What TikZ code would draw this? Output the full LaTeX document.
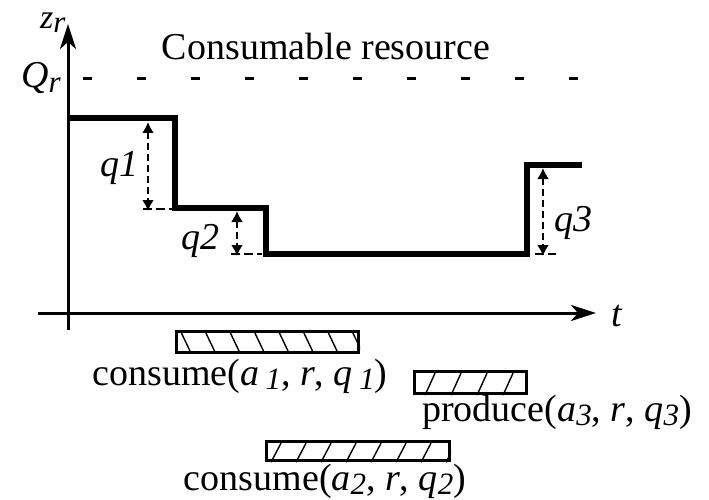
\documentclass[tikz,border=0pt]{standalone}
\usepackage{fontspec}
\setmainfont{Liberation Serif}
\usetikzlibrary{arrows.meta}
\newcommand\lowidx[1]{\raisebox{-0.25ex}{\fontsize{31}{34}\selectfont\textit{#1}}}
\begin{document}
\begin{tikzpicture}[x=1pt,y=-1pt,
  txt/.style={font=\fontsize{38}{42}\selectfont, inner sep=0pt, anchor=base},
  axisarrow/.style={line width=3pt, -{Stealth[length=25pt,width=16pt,inset=7pt]}},
  stepline/.style={line width=5.5pt, line join=miter},
  qarrow/.style={line width=2.8pt, dash pattern=on 7pt off 4pt,
     {Latex[length=11pt,width=12pt]}-{Latex[length=11pt,width=12pt]}},
  qtick/.style={line width=2.8pt, dash pattern=on 9pt off 4pt},
  qdash/.style={line width=3pt, dash pattern=on 9pt off 45pt},
  bar/.style={draw, line width=3.2pt, inner sep=0pt, anchor=north west},
  hatch/.style={line width=1.4pt}]
\useasboundingbox (0,0) rectangle (709,500);

% axis labels (drawn first so the axis overlays them)
\node[txt, font=\fontsize{34}{38}\selectfont, anchor=base west] (zr) at (40,29) {\textit{z}\lowidx{r}};
\node[txt, anchor=base west] (Qr) at (21,88) {\textit{Q}\lowidx{r}};
\node[txt] (tl) at (617,326) {\textit{t}};

% axes
\coordinate (yb) at (68,330);
\coordinate (yt) at (68,24);
\coordinate (xl) at (38,313);
\coordinate (xr) at (596,313);
\draw[axisarrow] (yb) -- (yt);
\draw[axisarrow] (xl) -- (xr);

% capacity line
\coordinate (qa) at (83,79);
\coordinate (qb) at (592,79);
\draw[qdash] (qa) -- (qb);
\node[txt] (title) at (326,60) {Consumable resource};

% resource profile
\coordinate (s0) at (68,118);
\coordinate (s1) at (175,118);
\coordinate (s2) at (175,208);
\coordinate (s3) at (266,208);
\coordinate (s4) at (266,254);
\coordinate (s5) at (527,254);
\coordinate (s6) at (527,165);
\coordinate (s7) at (582,165);
\draw[stepline] (s0) -- (s1) -- (s2) -- (s3) -- (s4) -- (s5) -- (s6) -- (s7);

% q arrows
\coordinate (a1t) at (148,122);
\coordinate (a1b) at (148,211);
\coordinate (t1a) at (143,209);
\coordinate (t1b) at (173,209);
\draw[qarrow] (a1t) -- (a1b);
\draw[qtick] (t1a) -- (t1b);
\node[txt] (q1) at (119,176) {\textit{q1}};

\coordinate (a2t) at (237,211);
\coordinate (a2b) at (237,256);
\coordinate (t2a) at (231,254);
\coordinate (t2b) at (262,254);
\draw[qarrow] (a2t) -- (a2b);
\draw[qtick] (t2a) -- (t2b);
\node[txt] (q2) at (200,249) {\textit{q2}};

\coordinate (a3t) at (543,168);
\coordinate (a3b) at (543,256);
\coordinate (t3a) at (535,254);
\coordinate (t3b) at (556,254);
\draw[qarrow] (a3t) -- (a3b);
\draw[qtick] (t3a) -- (t3b);
\node[txt] (q3) at (573,231) {\textit{q3}};

% activity bars
\node[bar, minimum width=182pt, minimum height=21pt] (b1) at (175,330) {};
\node[bar, minimum width=112pt, minimum height=22pt] (b3) at (413,370) {};
\node[bar, minimum width=183pt, minimum height=19pt] (b2) at (265,440) {};

\begin{scope}
  \clip (b1.south west) rectangle (b1.north east);
  \foreach \i in {0,...,7}
    \draw[hatch] ([xshift=5pt+\i*24.5pt]b1.north west) -- ++(10,21);
\end{scope}
\begin{scope}
  \clip (b3.south west) rectangle (b3.north east);
  \foreach \i in {0,...,4}
    \draw[hatch] ([xshift=12pt+\i*26pt]b3.south west) -- ++(10,-22);
\end{scope}
\begin{scope}
  \clip (b2.south west) rectangle (b2.north east);
  \foreach \i in {0,...,7}
    \draw[hatch] ([xshift=6pt+\i*25pt]b2.south west) -- ++(10,-19);
\end{scope}

\node[txt] (l1) at (240,385) {consume(\textit{a}\,\lowidx{1}, \textit{r}, \textit{q}\,\lowidx{1})};
\node[txt] (l3) at (557,421) {produce(\textit{a}\lowidx{3}, \textit{r}, \textit{q}\lowidx{3})};
\node[txt] (l2) at (325,490) {consume(\textit{a}\lowidx{2}, \textit{r}, \textit{q}\lowidx{2})};
\end{tikzpicture}
\end{document}
